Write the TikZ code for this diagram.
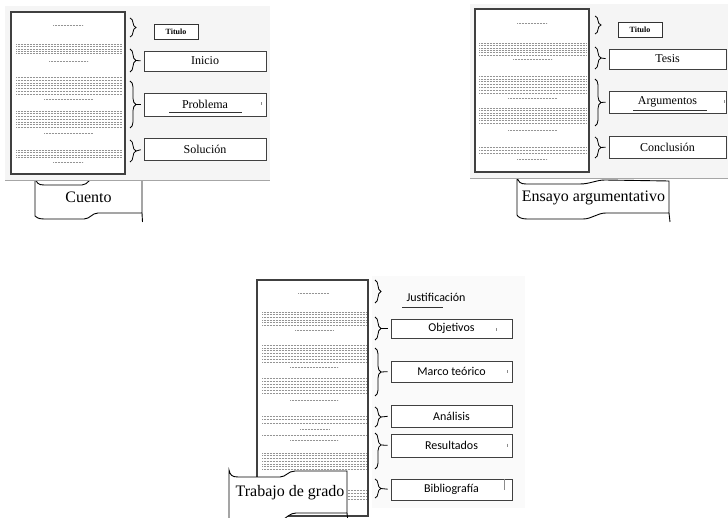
\documentclass[tikz,border=0pt]{standalone}
\usepackage{fontspec}
\setmainfont{Liberation Serif}
\newfontfamily\calib{Carlito}
\usetikzlibrary{decorations.pathreplacing}

% one row of filler "text" lines on a page
\newcommand\pglines[3]{\foreach \yy in {#3} \draw[txt] (#1,\yy) -- (#2,\yy);}

\begin{document}
\begin{tikzpicture}[x=1pt,y=-1pt,
  panel/.style={fill=black!4,draw=none},
  faint/.style={fill=black!2,draw=none},
  rule/.style={draw=black!35,line width=1.6pt},
  page/.style={draw=black!75,fill=white,line width=1.1pt},
  txt/.style={draw=black!42,line width=0.5pt,dash pattern=on 0.9pt off 0.6pt},
  brc/.style={draw=black,line width=0.8pt,decorate,decoration={brace,amplitude=6pt}},
  tie/.style={draw=black,line width=0.8pt,shorten >=3pt},
  tick/.style={draw=black!45,line width=0.5pt},
  uline/.style={draw=black!80,line width=0.6pt},
  banner/.style={draw=black,fill=white,line width=0.9pt},
  bannertext/.style={font=\fontsize{16}{18}\selectfont,inner sep=0pt},
  box/.style={draw=black!75,fill=white,line width=0.8pt,inner sep=0pt,
    font=\fontsize{12}{14}\selectfont},
  sbox/.style={box,font=\calib\fontsize{12}{14}\selectfont,minimum width=121pt},
  tbox/.style={draw=black!80,fill=white,line width=0.9pt,inner sep=0pt,
    minimum width=44pt,minimum height=15pt,font=\bfseries\fontsize{8}{9}\selectfont}
]
\useasboundingbox (0,0) rectangle (728,518);
\clip (0,0) rectangle (728,518);
\fill[white] (0,0) rectangle (728,518);

% ---------------- Cuento ----------------
\draw[banner] (35,176) .. controls (36,183) and (38,185) .. (44,185) -- (82,185)
  .. controls (88,185) and (90,177) .. (97,176) -- (142,176) -- (142,213) -- (98,213)
  .. controls (92,213) and (90,219) .. (84,219) -- (44,219)
  .. controls (38,219) and (36,217) .. (35,216) -- cycle;
\draw[banner] (142,213) -- (142.5,222);
\node[bannertext] (cuento) at (88.5,197) {Cuento};

\fill[panel] (5,6) rectangle (270,180);
\draw[rule] (5,180.5) -- (270,180.5);

\draw[page] (11,12) rectangle (125,174);
\pglines{53}{83}{25}
\pglines{16}{122}{44,46.4,48.8,51.2,53.6}
\pglines{49}{88}{61.7}
\pglines{16}{122}{77.5,80.25,83,85.75,88.5,91.25,94}
\pglines{44}{93}{99.5}
\pglines{16}{122}{111,113.7,116.4,119.1,121.8,124.5,127.2}
\pglines{44}{93}{133}
\pglines{16}{122}{150,152.4,154.8,157.2}
\pglines{53}{83}{162}

\node[tbox] (titulo1) at (176,31.5) {Titulo};
\node[box,minimum width=122pt,minimum height=20pt] (inicio) at (205,61) {Inicio};
\node[box,minimum width=122pt,minimum height=23pt] (problema) at (205,104.5) {Problema};
\node[box,minimum width=122pt,minimum height=22pt] (solucion) at (205,149) {Solución};
\draw[uline] (169,112.5) -- (242,112.5);
\draw[tick] (261,102.5) -- (261,105.5);

\draw[brc] (130,18) -- (130,37);
\draw[brc] (130,49) -- (130,72);
\draw[brc] (130,81) -- (130,128);
\draw[brc] (130,140) -- (130,162);
\coordinate (c2) at (136,60.5);
\coordinate (c3) at (136,104.5);
\coordinate (c4) at (136,151);
\draw[tie] (c2) -- (inicio.west);
\draw[tie] (c3) -- (problema.west);
\draw[tie] (c4) -- (solucion.west);

% ---------------- Ensayo argumentativo ----------------
\draw[banner] (517,176) .. controls (518,182) and (520,184) .. (526,184) -- (580,184)
  .. controls (590,184) and (596,180) .. (605,180) -- (669,181) -- (669,213) -- (606,213)
  .. controls (597,213) and (592,219) .. (583,219) -- (527,219)
  .. controls (521,219) and (518,217) .. (517,215) -- cycle;
\draw[banner] (669,213) -- (670,222);
\node[bannertext] (ensayo) at (593.5,198) {Ensayo argumentativo};

\fill[panel] (470,4) rectangle (728,178);
\draw[rule] (470,178.5) -- (728,178.5);

\draw[page] (475,9) rectangle (589,172);
\pglines{517}{547}{23}
\pglines{479}{586}{43,45.4,47.8,50.2,52.6,55}
\pglines{513}{552}{59}
\pglines{479}{586}{76,78.8,81.6,84.4,87.2,90,92.8}
\pglines{508}{557}{98}
\pglines{479}{586}{108,110.5,113,115.5,118,120.5,123}
\pglines{508}{557}{130}
\pglines{479}{586}{147,150,153}
\pglines{517}{547}{159}

\node[tbox] (titulo2) at (640,29.5) {Titulo};
\node[box,minimum width=117pt,minimum height=20pt] (tesis) at (667.5,59) {Tesis};
\node[box,minimum width=117pt,minimum height=22pt] (argumentos) at (667.5,102) {Argumentos};
\node[box,minimum width=117pt,minimum height=22pt] (conclusion) at (667.5,147) {Conclusión};
\draw[uline] (633,110.5) -- (707,110.5);
\draw[tick] (724.5,100.5) -- (724.5,103.5);

\draw[brc] (595,16) -- (595,34);
\draw[brc] (595,47) -- (595,69);
\draw[brc] (595,79) -- (595,126);
\draw[brc] (595,137) -- (595,158);
\coordinate (e2) at (601,58);
\coordinate (e3) at (601,102.5);
\coordinate (e4) at (601,147.5);
\draw[tie] (e2) -- (tesis.west);
\draw[tie] (e3) -- (argumentos.west);
\draw[tie] (e4) -- (conclusion.west);

% ---------------- Trabajo de grado ----------------
\fill[faint] (372,276) rectangle (525,508);

\draw[page] (257,280) rectangle (368,516);
\pglines{298}{329}{293}
\pglines{262}{366}{312,314.6,317.2,319.8,322.4,325}
\pglines{295}{333}{330}
\pglines{262}{366}{345,347.8,350.6,353.4,356.2,359,361.8}
\pglines{290}{338}{367}
\pglines{262}{366}{378,381,384,387,390,393}
\pglines{290}{338}{400}
\pglines{262}{366}{416,419.5,423}
\pglines{300}{329}{429}
\pglines{262}{366}{435}
\pglines{290}{338}{440}
\pglines{262}{366}{453,455.7,458.4,461.1,463.8,466.5,469.2}
\pglines{262}{366}{490,493,496,499}

\draw[banner] (229,470) .. controls (230,475) and (232,477) .. (238,477) -- (280,477)
  .. controls (286,477) and (288,471) .. (295,471) -- (347,471) -- (347,513) -- (296,513)
  .. controls (290,513) and (286,518) .. (280,522) -- (229,522) -- cycle;
\draw[banner] (347,513) -- (348,522);
\node[bannertext] (trabajo) at (290,493) {Trabajo de grado};

\node[font=\calib\fontsize{12}{14}\selectfont,inner sep=0pt] (justif) at (436,297) {Justificación};
\draw[uline] (402,307) -- (443,307);
\node[sbox,minimum height=19pt] (objetivos) at (451.5,328.5) {Objetivos};
\node[sbox,minimum height=21pt] (marco) at (451.5,371.5) {Marco teórico};
\node[sbox,minimum height=22pt] (analisis) at (451.5,416) {Análisis};
\node[sbox,minimum height=23pt] (resultados) at (451.5,445.5) {Resultados};
\node[sbox,minimum height=21pt] (biblio) at (451.5,489.5) {Bibliografía};
\draw[tick] (496,328.5) -- (496,331.5);
\draw[tick] (507,370.5) -- (507,373.5);
\draw[tick] (507,443.5) -- (507,446.5);
\draw[tick] (504,479) -- (504,490);

\draw[brc] (375,280) -- (375,303);
\draw[brc] (375,317) -- (375,340);
\draw[brc] (375,348) -- (375,396);
\draw[brc] (375,407) -- (375,427);
\draw[brc,decoration={aspect=0.33}] (375,433) -- (375,469);
\draw[brc] (375,479) -- (375,498);
\coordinate (t2) at (381,328.5);
\coordinate (t3) at (381,372);
\coordinate (t4) at (381,417);
\coordinate (t5) at (381,445);
\coordinate (t6) at (381,488.5);
\draw[tie] (t2) -- (objetivos.west);
\draw[tie] (t3) -- (marco.west);
\draw[tie] (t4) -- (analisis.west);
\draw[tie] (t5) -- (resultados.west);
\draw[tie] (t6) -- (biblio.west);
\end{tikzpicture}
\end{document}
